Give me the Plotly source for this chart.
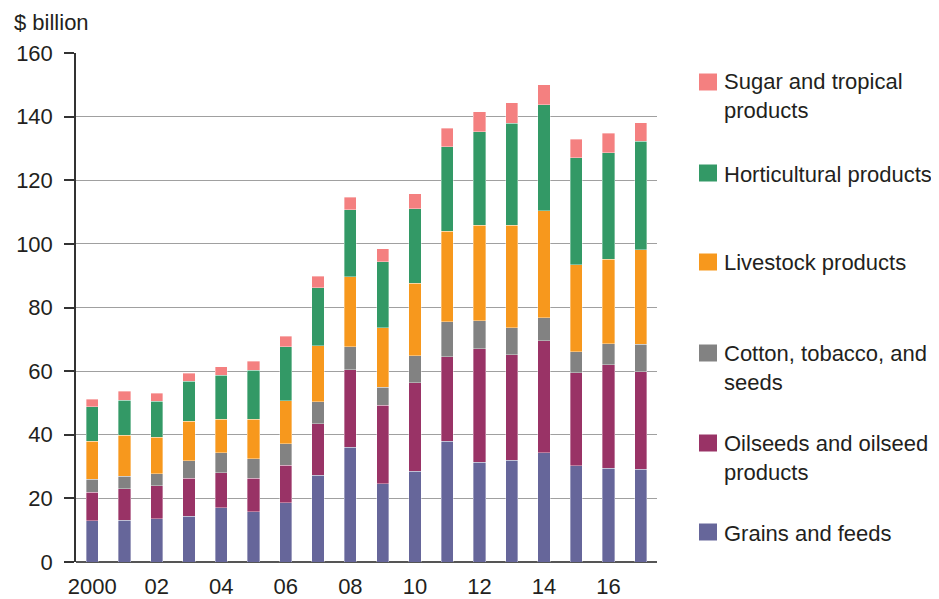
import plotly.graph_objects as go

years = list(range(2000, 2018))
grains = [13.0, 13.1, 13.6, 14.4, 17.1, 15.8, 18.7, 27.3, 36.1, 24.6, 28.5, 38.0, 31.3, 32.0, 34.4, 30.3, 29.5, 29.1]
oilseeds = [9.0, 9.9, 10.3, 12.0, 10.9, 10.6, 11.7, 16.2, 24.3, 24.7, 27.8, 26.5, 35.7, 33.1, 35.1, 29.2, 32.5, 30.7]
cotton = [4.0, 4.0, 3.8, 5.4, 6.3, 6.0, 6.7, 6.8, 7.3, 5.7, 8.5, 11.0, 8.8, 8.6, 7.3, 6.6, 6.6, 8.6]
livestock = [11.9, 12.8, 11.5, 12.4, 10.6, 12.5, 13.6, 17.7, 22.0, 18.6, 22.9, 28.5, 30.1, 32.1, 33.6, 27.4, 26.6, 29.7]
horticultural = [10.9, 11.1, 11.4, 12.6, 13.8, 15.4, 16.9, 18.2, 21.0, 20.8, 23.3, 26.6, 29.4, 32.1, 33.3, 33.6, 33.4, 34.1]
sugar = [2.4, 2.7, 2.5, 2.5, 2.7, 2.8, 3.3, 3.7, 4.0, 4.1, 4.8, 5.8, 6.2, 6.4, 6.3, 5.8, 6.1, 5.9]

tick_years = [2000, 2002, 2004, 2006, 2008, 2010, 2012, 2014, 2016]
tick_labels = ["2000", "02", "04", "06", "08", "10", "12", "14", "16"]

series = [
    ("Grains and feeds", grains, "#66669A"),
    ("Oilseeds and oilseed<br>products", oilseeds, "#993366"),
    ("Cotton, tobacco, and<br>seeds", cotton, "#828282"),
    ("Livestock products", livestock, "#F7981D"),
    ("Horticultural products", horticultural, "#339966"),
    ("Sugar and tropical<br>products", sugar, "#F48080"),
]

FONT = "Liberation Sans, Arial, sans-serif"
TXT = "#231F20"
FS = 22

fig = go.Figure()
for name, vals, col in series:
    fig.add_trace(go.Bar(
        x=years, y=vals, name=name.replace("<br>", " "),
        marker=dict(color=col, line=dict(color="rgba(255,255,255,0.6)", width=0.6)),
        width=0.38, showlegend=False,
    ))

OFF = 8  # page body margin
W, H = 939 - OFF, 599 - OFF
L, R, T, B = 76 - OFF, 657 - OFF, 53 - OFF, 562 - OFF

def px(xp):
    return (xp - OFF - L) / (R - L)

def py(yp):
    return (B - (yp - OFF)) / (B - T)

shapes = []
annotations = []
legend_centers = [532, 443, 353, 262, 173, 82]
for (name, vals, col), yc in zip(series, legend_centers):
    shapes.append(dict(type="rect", xref="paper", yref="paper",
                       x0=px(699), x1=px(717), y0=py(yc + 8.5), y1=py(yc - 8.5),
                       fillcolor=col, line=dict(width=0)))
    nlines = name.count("<br>") + 1
    ycenter = yc + (nlines - 1) * 13.5
    annotations.append(dict(text=name, xref="paper", yref="paper",
                            x=px(722), y=py(ycenter + 1), xanchor="left", yanchor="middle",
                            align="left", showarrow=False,
                            font=dict(family=FONT, size=FS, color=TXT)))

annotations.append(dict(text="$ billion", xref="paper", yref="paper",
                        x=px(13), y=py(8.5), xanchor="left", yanchor="top",
                        showarrow=False, borderpad=0,
                        font=dict(family=FONT, size=FS, color=TXT)))

fig.update_layout(
    barmode="stack",
    width=W, height=H,
    margin=dict(l=L, r=W - R, t=T, b=H - B, pad=0, autoexpand=False),
    paper_bgcolor="white", plot_bgcolor="white",
    font=dict(family=FONT, size=FS, color=TXT),
    shapes=shapes, annotations=annotations,
    xaxis=dict(range=[1999.5, 2017.5], tickmode="array", tickvals=tick_years,
               ticktext=tick_labels, showgrid=False, ticks="", showline=False,
               zeroline=False, tickfont=dict(size=FS, color=TXT), ticklabelstandoff=9,
               automargin=False),
    yaxis=dict(range=[0, 160], tickmode="array", tickvals=list(range(0, 161, 20)),
               showgrid=True, gridcolor="#A0A0A0", gridwidth=1,
               showline=True, linecolor="#333333", linewidth=1.5,
               ticks="outside", ticklen=10, tickcolor="#333333", tickwidth=1.5,
               zeroline=True, zerolinecolor="#555555", zerolinewidth=1.5,
               tickfont=dict(size=FS, color=TXT), ticklabelstandoff=7,
               automargin=False),
)

fig.write_html("out.html")
